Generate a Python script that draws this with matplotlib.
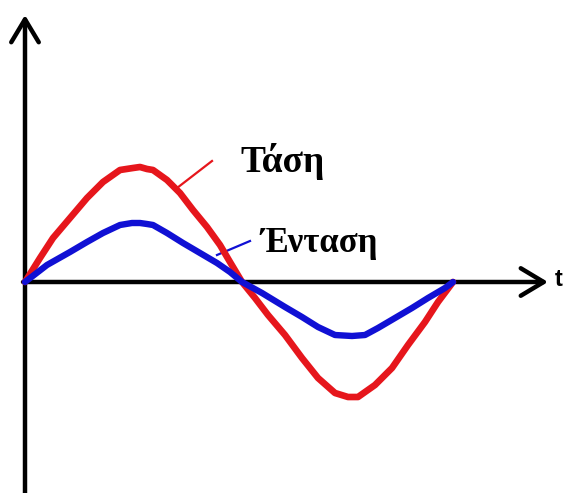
import matplotlib
matplotlib.use("Agg")
import matplotlib.pyplot as plt

# Curve samples (time, value), arbitrary units
t_voltage = [0, 15, 28, 45, 62, 78, 95, 108, 115, 122, 128, 142, 155, 168, 182, 195, 205, 217,
             230, 243, 260, 277, 293, 310, 323, 333, 350, 367, 383, 400, 413, 428]
voltage = [0, 24, 44, 64, 84, 100, 112, 114, 115, 113, 112, 102, 89, 72, 55, 37, 20, 0,
           -16, -33, -53, -76, -96, -111, -115, -115, -103, -86, -63, -40, -20, 0]

t_current = [0, 22, 45, 62, 78, 95, 107, 115, 122, 128, 142, 158, 175, 192, 205, 217,
             237, 260, 277, 293, 310, 327, 340, 353, 370, 387, 403, 420, 428]
current = [0, 17, 30, 40, 49, 57, 59, 59, 58, 57, 49, 39, 29, 19, 10, 0,
           -11, -25, -35, -45, -53, -54, -53, -46, -36, -26, -16, -6, 0]

labels = ["Τάση", "Ένταση"]
red = "#e6161c"
blue = "#1010d4"

fig = plt.figure(figsize=(5.71, 4.93), dpi=100)
ax = fig.add_axes([0, 0, 1, 1])
ax.set_xlim(-25, 546)
ax.set_ylim(-211, 282)
ax.axis("off")

# axes with open arrow heads
arrow = dict(arrowstyle="->, head_length=0.75, head_width=0.45", lw=3.2,
             color="black", mutation_scale=22, shrinkA=0, shrinkB=0)
ax.annotate("", xy=(0, 267), xytext=(0, -215), arrowprops=arrow, zorder=1)
ax.annotate("", xy=(523, 0), xytext=(-2, 0), arrowprops=arrow, zorder=1)
ax.text(530, 2, "t", fontsize=17, fontweight="bold", family="Liberation Sans",
        ha="left", va="center")

# curves
ax.plot(t_voltage, voltage, color=red, lw=4.8, solid_joinstyle="round",
        solid_capstyle="round", zorder=3)
ax.plot(t_current, current, color=blue, lw=4.6, solid_joinstyle="round",
        solid_capstyle="round", zorder=4)

# labels with leader lines
ax.plot([152, 187], [94, 121], color=red, lw=1.6, zorder=2)
ax.plot([192, 225], [27, 41], color=blue, lw=1.6, zorder=2)
ax.text(215, 110, labels[0], fontsize=27, fontweight="bold",
        family="Liberation Serif", ha="left", va="baseline")
ax.text(235, 30, labels[1], fontsize=25, fontweight="bold",
        family="Liberation Serif", ha="left", va="baseline")

fig.savefig("out.png", dpi=100, facecolor="white")
